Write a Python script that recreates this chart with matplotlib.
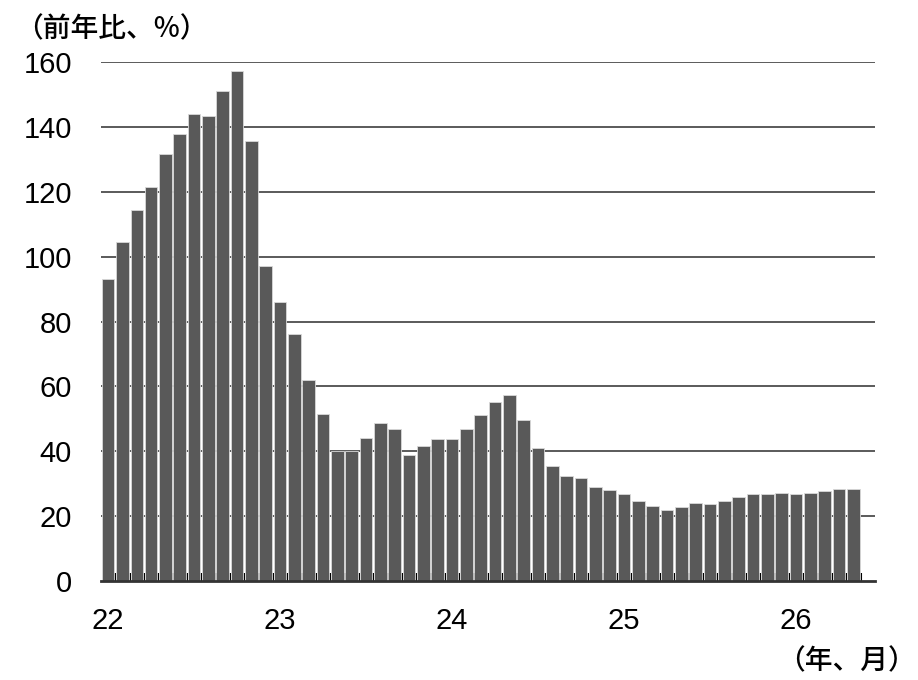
import numpy as np
import matplotlib
matplotlib.use("Agg")
import matplotlib.pyplot as plt

plt.rcParams['font.family'] = ['Liberation Sans', 'Noto Sans CJK JP', 'DejaVu Sans']

# monthly values, 2022/01 - 2026/05 (前年比, %)
values = [93, 104.5, 114.5, 121.5, 131.7, 137.7, 144, 143.3, 151, 157.3,
          135.7, 97, 86, 76, 62, 51.5, 40, 40, 44, 48.8,
          46.9, 38.8, 41.6, 43.7, 43.7, 46.9, 51.2, 55.3, 57.2, 49.7,
          40.9, 35.3, 32.5, 31.7, 29, 27.9, 26.8, 24.8, 23.2, 22,
          22.8, 24.1, 23.7, 24.8, 26, 26.8, 26.8, 27.2, 26.8, 27.2,
          27.6, 28.3, 28.3]
year_labels = ['22', '23', '24', '25', '26']
y_ticks = [0, 20, 40, 60, 80, 100, 120, 140, 160]

n = len(values)
x = np.arange(n)

fig = plt.figure(figsize=(9.18, 6.8), dpi=100)
ax = fig.add_axes([0.110, 0.1456, 0.843, 0.7632])

for y in y_ticks[1:]:
    ax.axhline(y, color='#4d4d4d', lw=1.3, zorder=1)

ax.bar(x, values, width=0.88, color='#595959', edgecolor='#d9d9d9',
       linewidth=0.6, zorder=2)

ax.set_xlim(-0.5, n + 0.5)
ax.set_ylim(0, 160)

for s in ['top', 'right', 'left']:
    ax.spines[s].set_visible(False)
ax.spines['bottom'].set_linewidth(2)
ax.spines['bottom'].set_color('#333333')
ax.spines['bottom'].set_zorder(3)

ax.set_yticks(y_ticks)
ax.set_yticklabels([str(v) for v in y_ticks])
ax.tick_params(axis='y', length=0, pad=21, labelsize=21)

# year labels under january of each year
ax.set_xticks([12 * i for i in range(len(year_labels))])
ax.set_xticklabels(year_labels)
ax.tick_params(axis='x', which='major', length=0, pad=19, labelsize=21)

# small inward ticks at each month boundary
ax.set_xticks(np.arange(0.5, n + 0.5, 1), minor=True)
ax.tick_params(axis='x', which='minor', direction='in', length=6,
               width=1.5, color='black')

jp = ['Noto Sans CJK JP', 'DejaVu Sans']
fig.text(0.016, 0.958, '（前年比、%）', fontsize=20, fontweight='medium',
         family=jp, ha='left', va='center')
fig.text(0.998, 0.028, '（年、月）', fontsize=20, fontweight='medium',
         family=jp, ha='right', va='center')

fig.savefig('out.png', dpi=100)
